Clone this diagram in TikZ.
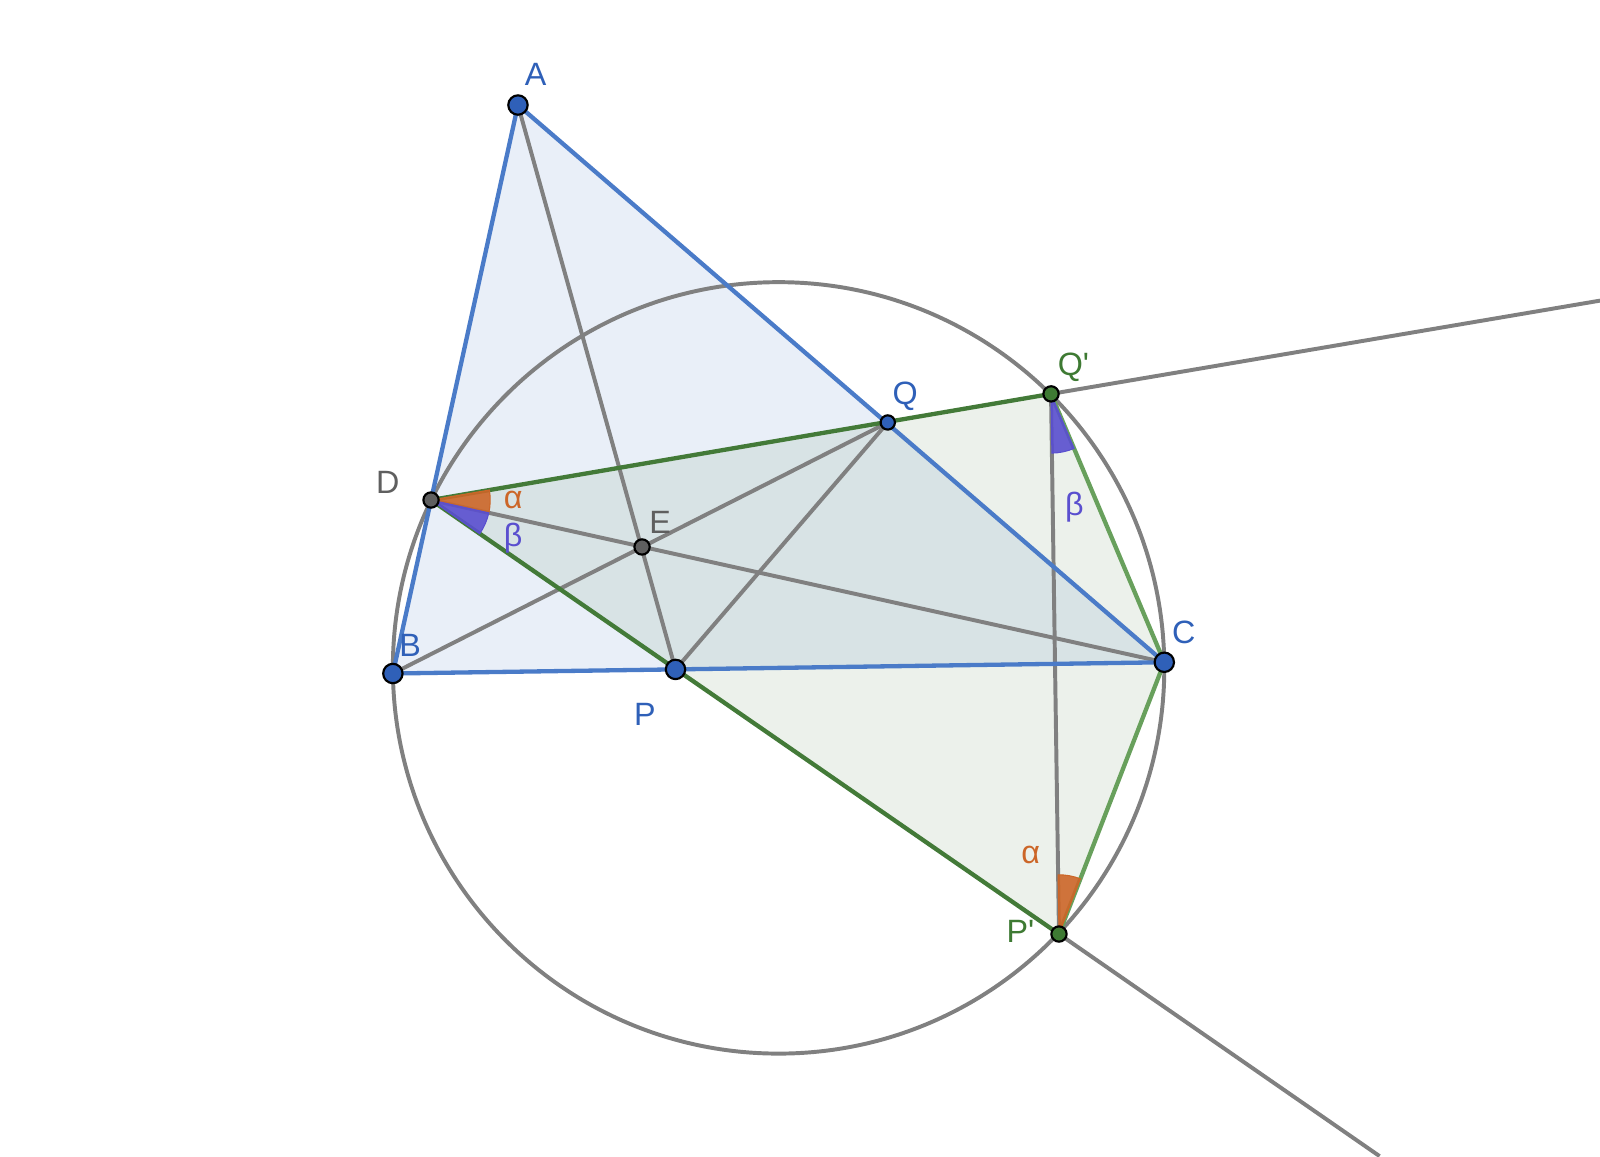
\documentclass[tikz,border=0pt]{standalone}
\usepackage{fontspec}
\setmainfont{Liberation Sans}
\definecolor{lineblue}{HTML}{4A7BC8}
\definecolor{ptblue}{HTML}{2F60B8}
\definecolor{darkgreen}{HTML}{437A38}
\definecolor{lightgreen}{HTML}{68A05C}
\definecolor{ptgreen}{HTML}{3E7A33}
\definecolor{ggray}{HTML}{808080}
\definecolor{ptgray}{HTML}{5F5F5F}
\definecolor{anglered}{HTML}{CC6628}
\definecolor{anglepurple}{HTML}{5A4FCF}
\tikzset{
  bigpt/.style={circle, draw=black, line width=0.6pt, fill=ptblue, inner sep=0pt, minimum size=0.19cm},
  smallpt/.style={circle, draw=black, line width=0.6pt, inner sep=0pt, minimum size=0.15cm},
  lbl/.style={font=\fontsize{9}{10}\selectfont, inner sep=1pt},
  grayline/.style={draw=ggray, line width=1.1pt},
}
\begin{document}
\begin{tikzpicture}
      \useasboundingbox (0,0) rectangle (15.68,-11.33);
      % points
      \coordinate (A) at (5.076,-1.029);
      \coordinate (B) at (3.85,-6.60);
      \coordinate (C) at (11.41,-6.49);
      \coordinate (D) at (4.224,-4.90);
      \coordinate (E) at (6.292,-5.36);
      \coordinate (P) at (6.62,-6.56);
      \coordinate (Q) at (8.70,-4.14);
      \coordinate (Q') at (10.30,-3.86);
      \coordinate (P') at (10.378,-9.153);
      \coordinate (O) at (7.63,-6.545);
      \coordinate (endQ) at (15.68,-2.946);
      \coordinate (endP) at (13.52,-11.33);

      \fill [lineblue, opacity=0.12] (A) -- (B) -- (C) -- cycle;
      \fill [darkgreen, opacity=0.1] (D) -- (Q') -- (C) -- (P') -- cycle;

      \draw [grayline] (O) circle [radius=3.78];
      \draw [grayline] (A) -- (P);
      \draw [grayline] (B) -- (Q);
      \draw [grayline] (D) -- (C);
      \draw [grayline] (P) -- (Q);
      \draw [grayline] (Q') -- (P');
      \draw [grayline] (Q') -- (endQ);
      \draw [grayline] (P') -- (endP);

      \draw [lineblue, line width=1.2pt, line join=round] (A) -- (B) -- (C) -- cycle;
      \draw [darkgreen, line width=1.2pt] (D) -- (Q');
      \draw [darkgreen, line width=1.2pt] (D) -- (P');
      \draw [lightgreen, line width=1.2pt] (Q') -- (C) -- (P');

      % angles
      \filldraw [fill=anglered, draw=anglered, fill opacity=0.9, line width=0.3pt] (D) -- ++(9.71:0.58) arc [start angle=9.71, end angle=-12.48, radius=0.58] -- cycle;
      \filldraw [fill=anglepurple, draw=anglepurple, fill opacity=0.9, line width=0.3pt] (D) -- ++(-12.48:0.58) arc [start angle=-12.48, end angle=-34.71, radius=0.58] -- cycle;
      \filldraw [fill=anglepurple, draw=anglepurple, fill opacity=0.9, line width=0.3pt] (Q') -- ++(-89.16:0.58) arc [start angle=-89.16, end angle=-67.12, radius=0.58] -- cycle;
      \filldraw [fill=anglered, draw=anglered, fill opacity=0.9, line width=0.3pt] (P') -- ++(68.82:0.58) arc [start angle=68.82, end angle=90.84, radius=0.58] -- cycle;

      \node [bigpt] (pA) at (A) {};
      \node [bigpt] (pB) at (B) {};
      \node [bigpt] (pC) at (C) {};
      \node [bigpt] (pP) at (P) {};
      \node [smallpt, fill=ptblue, minimum size=0.14cm] (pQ) at (Q) {};
      \node [smallpt, fill=ptgray] (pD) at (D) {};
      \node [smallpt, fill=ptgray] (pE) at (E) {};
      \node [smallpt, fill=ptgreen] (pQ') at (Q') {};
      \node [smallpt, fill=ptgreen] (pP') at (P') {};

      \node [lbl, ptblue] (lA) at (5.25,-0.73) {A};
      \node [lbl, ptblue] (lB) at (4.02,-6.32) {B};
      \node [lbl, ptblue] (lC) at (11.60,-6.20) {C};
      \node [lbl, ptgray] (lD) at (3.80,-4.73) {D};
      \node [lbl, ptgray] (lE) at (6.47,-5.12) {E};
      \node [lbl, ptblue] (lP) at (6.32,-7.00) {P};
      \node [lbl, ptblue] (lQ) at (8.87,-3.88) {Q};
      \node [lbl, ptgreen] (lQ') at (10.52,-3.60) {Q\textquotesingle};
      \node [lbl, ptgreen] (lP') at (10.00,-9.13) {P\textquotesingle};
      \node [lbl, anglered] (a1) at (5.03,-4.90) {α};
      \node [lbl, anglepurple] (b1) at (5.03,-5.27) {β};
      \node [lbl, anglepurple] (b2) at (10.53,-4.97) {β};
      \node [lbl, anglered] (a2) at (10.10,-8.38) {α};
\end{tikzpicture}
\end{document}
